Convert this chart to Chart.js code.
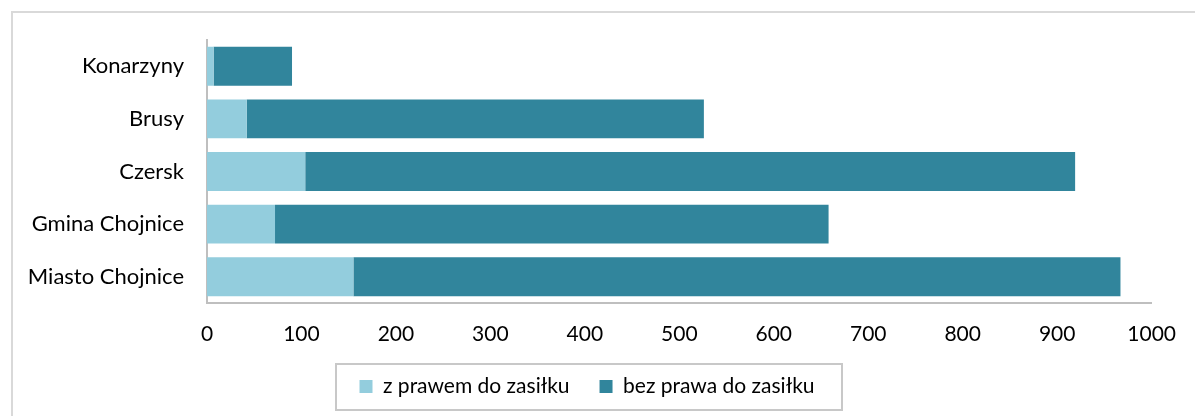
<!DOCTYPE html>
<html>
<head>
<meta charset="utf-8">
<script src="https://cdn.jsdelivr.net/npm/chart.js@4"></script>
<style>
  html, body { margin: 0; padding: 0; background: #fff; overflow: hidden; }
  #frame { position: absolute; left: 11px; top: 11px; width: 1300px; height: 600px;
           border: 2px solid #d9d9d9; box-sizing: border-box; }
  #wrap { position: absolute; left: 0; top: 0; width: 1195px; height: 416px; }
</style>
</head>
<body>
<div id="frame"></div>
<div id="wrap"><canvas id="chart"></canvas></div>
<script>
// bezrobotni wg prawa do zasiłku, gminy powiatu chojnickiego
const categories = ['Konarzyny', 'Brusy', 'Czersk', 'Gmina Chojnice', 'Miasto Chojnice'];
const zPrawem    = [7, 42, 104, 72, 155];
const bezPrawa   = [83, 484, 815, 586, 812];
const seriesNames = ['z prawem do zasiłku', 'bez prawa do zasiłku'];
const xMin = 0, xMax = 1000, xStep = 100;

const FONT = { family: 'Lato', size: 21 };
const FONT_CAT = { family: 'Lato', size: 22 };

// draw a frame round the legend, like the Excel legend box
const legendFrame = {
  id: 'legendFrame',
  afterDraw(chart) {
    const hb = chart.legend && chart.legend.legendHitBoxes;
    if (!hb || !hb.length) return;
    const ctx = chart.ctx;
    const left  = Math.min(...hb.map(b => b.left)) - 23;
    const right = Math.max(...hb.map(b => b.left + b.width)) + 28;
    const cy = hb[0].top + hb[0].height / 2;
    ctx.save();
    ctx.strokeStyle = '#c8c8c8';
    ctx.lineWidth = 2;
    ctx.strokeRect(Math.round(left), Math.round(cy - 23), Math.round(right - left), 46);
    ctx.restore();
  }
};

new Chart(document.getElementById('chart'), {
  type: 'bar',
  data: {
    labels: categories,
    datasets: [
      {
        label: seriesNames[0],
        data: zPrawem,
        backgroundColor: '#93cddd',
        borderWidth: 0,
        categoryPercentage: 1,
        barPercentage: 0.74,
      },
      {
        label: seriesNames[1],
        data: bezPrawa,
        backgroundColor: '#31859c',
        borderWidth: 0,
        categoryPercentage: 1,
        barPercentage: 0.74,
      }
    ]
  },
  options: {
    indexAxis: 'y',
    responsive: true,
    maintainAspectRatio: false,
    animation: false,
    layout: { padding: { top: 40, right: 21, bottom: 9, left: 0 } },
    plugins: {
      tooltip: { enabled: false },
      legend: {
        position: 'bottom',
        labels: {
          font: FONT, color: '#000', boxWidth: 13, boxHeight: 13, padding: 30,
        }
      }
    },
    scales: {
      x: {
        stacked: true,
        min: xMin, max: xMax,
        ticks: {
          stepSize: xStep, font: FONT, color: '#000', padding: 19, maxRotation: 0,
          callback: v => String(v)
        },
        grid: { display: false, drawTicks: false },
        border: { color: '#bfbfbf', width: 2 },
        afterFit(scale) { scale.height = 43; }
      },
      y: {
        stacked: true,
        ticks: { font: FONT_CAT, color: '#000', padding: 23 },
        grid: { display: false, drawTicks: false },
        border: { color: '#bfbfbf', width: 2 },
        afterFit(scale) { scale.width = 207; }
      }
    }
  },
  plugins: [legendFrame]
});
</script>
</body>
</html>
